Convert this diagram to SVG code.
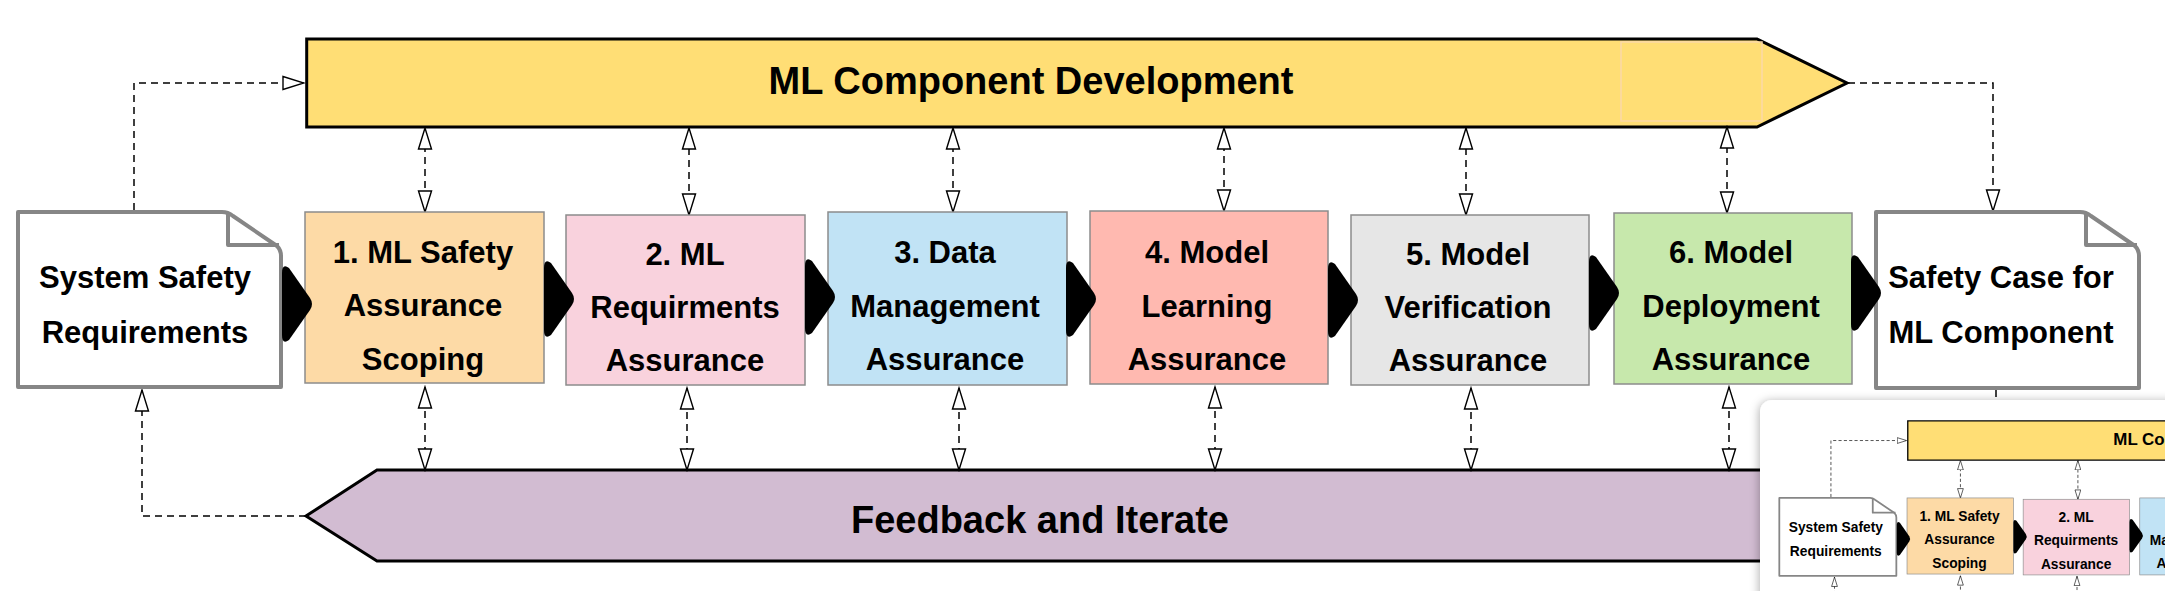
<svg xmlns="http://www.w3.org/2000/svg" xmlns:xlink="http://www.w3.org/1999/xlink" width="2165" height="591" viewBox="0 0 2165 591">
<style>
text{font-family:"Liberation Sans",Arial,sans-serif;font-weight:bold;fill:#000;text-anchor:middle}
.bt{font-size:31px}
.big{font-size:38px}
.box{stroke:#8c8c8c;stroke-width:1.5}
.doc{fill:#fff;stroke:#868686;stroke-width:4;stroke-linejoin:round}
.bar{stroke:#000;stroke-width:3;stroke-linejoin:miter}
.dash{fill:none;stroke:#000;stroke-width:1.5;stroke-dasharray:7 5}
.chev{fill:#000}
</style>
<defs>
<marker id="ah" markerUnits="userSpaceOnUse" markerWidth="24" markerHeight="16" viewBox="0 0 24 16" refX="22" refY="8" orient="auto-start-reverse">
<path d="M1,1.5 L22,8 L1,14.5 Z" fill="#fff" stroke="#000" stroke-width="1.4" stroke-dasharray="none"/>
</marker>
<path id="chevshape" d="M0,10 Q0,0 7,5 L28,35 Q32,41 28,47 L7,77 Q0,82 0,72 Z"/>
<filter id="shadow" x="-10%" y="-20%" width="130%" height="140%">
<feDropShadow dx="-1" dy="1" stdDeviation="5" flood-color="#000" flood-opacity="0.3"/>
</filter>
<clipPath id="insetClip"><rect x="1760" y="400" width="600" height="300" rx="12"/></clipPath>
</defs>
<g id="diagram">
<g id="bar-dev">
<path class="bar" d="M306.7,39 H1757 L1847,83 L1757,127 H306.7 Z" fill="#FFDE75"/>
<rect x="1621" y="42" width="141" height="79" fill="none" stroke="#FCD9A8" stroke-width="1.5"/>
<text class="big" x="1031" y="94">ML Component Development</text>
</g>
<g id="bar-feedback">
<path class="bar" d="M306,516 L377,470 H1950 V561 H377 Z" fill="#D2BCD2"/>
<text class="big" x="1040" y="533">Feedback and Iterate</text>
</g>
<g id="connectors">
<path class="dash" d="M134,210 V83 H304" marker-end="url(#ah)"/>
<path class="dash" d="M1848,83 H1993 V211" marker-end="url(#ah)"/>
<path class="dash" d="M306,516 H142 V390" marker-end="url(#ah)"/>
<path class="dash" d="M1996,390 V470"/>
<path class="dash" d="M425,212 V128" marker-start="url(#ah)" marker-end="url(#ah)"/>
<path class="dash" d="M689,215 V128" marker-start="url(#ah)" marker-end="url(#ah)"/>
<path class="dash" d="M953,212 V128" marker-start="url(#ah)" marker-end="url(#ah)"/>
<path class="dash" d="M1224,211 V128" marker-start="url(#ah)" marker-end="url(#ah)"/>
<path class="dash" d="M1466,215 V128" marker-start="url(#ah)" marker-end="url(#ah)"/>
<path class="dash" d="M1727,213 V127" marker-start="url(#ah)" marker-end="url(#ah)"/>
<path class="dash" d="M425,387 V470" marker-start="url(#ah)" marker-end="url(#ah)"/>
<path class="dash" d="M687,388 V470" marker-start="url(#ah)" marker-end="url(#ah)"/>
<path class="dash" d="M959,388 V470" marker-start="url(#ah)" marker-end="url(#ah)"/>
<path class="dash" d="M1215,387 V470" marker-start="url(#ah)" marker-end="url(#ah)"/>
<path class="dash" d="M1471,388 V470" marker-start="url(#ah)" marker-end="url(#ah)"/>
<path class="dash" d="M1729,387 V470" marker-start="url(#ah)" marker-end="url(#ah)"/>
</g>
<g id="doc-ssr">
<path class="doc" d="M18,212 H222 Q228,212 233,216 L277,246 Q281,250 281,256 V387 H18 Z"/>
<path d="M228,214 V245 H279" fill="none" stroke="#868686" stroke-width="4" stroke-linejoin="round"/>
<text class="bt" x="145" y="288">System Safety</text>
<text class="bt" x="145" y="343">Requirements</text>
</g>
<g id="box1">
<rect class="box" x="305" y="212" width="239" height="171" fill="#FDDAA6"/>
<text class="bt" x="423" y="263">1. ML Safety</text>
<text class="bt" x="423" y="316">Assurance</text>
<text class="bt" x="423" y="370">Scoping</text>
</g>
<g id="box2">
<rect class="box" x="566" y="215" width="239" height="170" fill="#F9D2DD"/>
<text class="bt" x="685" y="265">2. ML</text>
<text class="bt" x="685" y="318">Requirments</text>
<text class="bt" x="685" y="371">Assurance</text>
</g>
<g id="box3">
<rect class="box" x="828" y="212" width="239" height="173" fill="#C1E3F5"/>
<text class="bt" x="945" y="263">3. Data</text>
<text class="bt" x="945" y="317">Management</text>
<text class="bt" x="945" y="370">Assurance</text>
</g>
<g id="box4">
<rect class="box" x="1090" y="211" width="238" height="173" fill="#FFB9B0"/>
<text class="bt" x="1207" y="263">4. Model</text>
<text class="bt" x="1207" y="317">Learning</text>
<text class="bt" x="1207" y="370">Assurance</text>
</g>
<g id="box5">
<rect class="box" x="1351" y="215" width="238" height="170" fill="#E6E6E6"/>
<text class="bt" x="1468" y="265">5. Model</text>
<text class="bt" x="1468" y="318">Verification</text>
<text class="bt" x="1468" y="371">Assurance</text>
</g>
<g id="box6">
<rect class="box" x="1614" y="213" width="238" height="171" fill="#C7E8AC"/>
<text class="bt" x="1731" y="263">6. Model</text>
<text class="bt" x="1731" y="317">Deployment</text>
<text class="bt" x="1731" y="370">Assurance</text>
</g>
<g id="doc-safety-case">
<path class="doc" d="M1876,212 H2080 Q2086,212 2091,216 L2135,246 Q2139,250 2139,256 V388 H1876 Z"/>
<path d="M2086,214 V245 H2137" fill="none" stroke="#868686" stroke-width="4" stroke-linejoin="round"/>
<text class="bt" x="2001" y="288">Safety Case for</text>
<text class="bt" x="2001" y="343">ML Component</text>
</g>
<g id="flow-arrows">
<use xlink:href="#chevshape" class="chev" transform="translate(282,263)"/>
<use xlink:href="#chevshape" class="chev" transform="translate(544,258)"/>
<use xlink:href="#chevshape" class="chev" transform="translate(805,256)"/>
<use xlink:href="#chevshape" class="chev" transform="translate(1066,258)"/>
<use xlink:href="#chevshape" class="chev" transform="translate(1328,259)"/>
<use xlink:href="#chevshape" class="chev" transform="translate(1589,252)"/>
<use xlink:href="#chevshape" class="chev" transform="translate(1851,252)"/>
</g>
</g>
<g id="inset">
<rect x="1760" y="400" width="600" height="300" rx="12" fill="#fff" filter="url(#shadow)"/>
<g clip-path="url(#insetClip)">
<use xlink:href="#diagram" transform="translate(1771.3,403.6) scale(0.445)"/>
</g>
</g>
</svg>
